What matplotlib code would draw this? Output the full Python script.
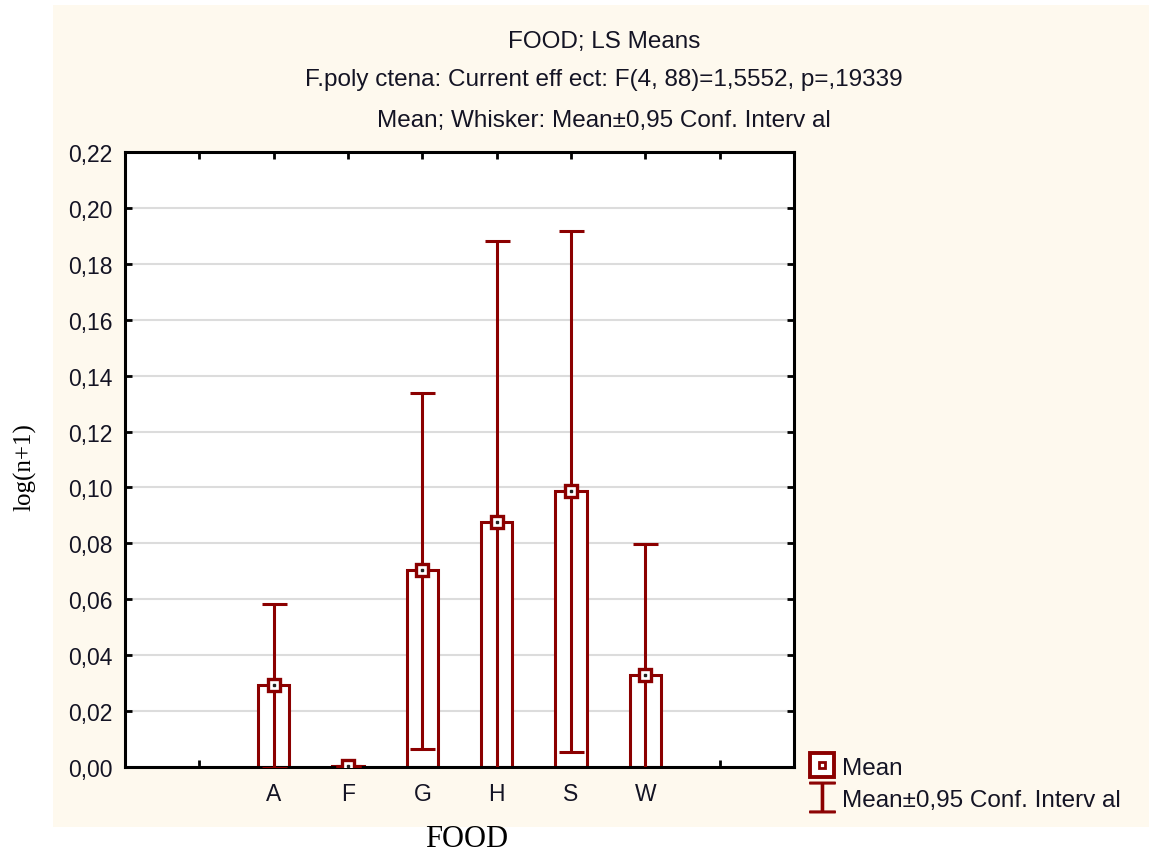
import numpy as np
from matplotlib import pyplot as plt
from matplotlib.patches import Rectangle
from matplotlib.lines import Line2D
from matplotlib.ticker import FuncFormatter

# =============================================================================
# data
# =============================================================================
food = ['A', 'F', 'G', 'H', 'S', 'W']
mean = [0.0293, 0.0002, 0.0705, 0.0877, 0.0988, 0.0329]
ci_low = [-0.0004, 0.0002, 0.0065, -0.0128, 0.0055, -0.0140]
ci_high = [0.0583, 0.0002, 0.1338, 0.1882, 0.1918, 0.0798]

red = '#8b0000'
cream = '#fef9ee'
ink = '#141424'
sans = 'Liberation Sans'

fig = plt.figure(figsize=(11.49, 8.54), dpi=100)
fig.patches.append(Rectangle((53/1149, 1-828/854), 1-53/1149, (828-6)/854,
                             transform=fig.transFigure, facecolor=cream,
                             edgecolor='none', zorder=-10))

ax = fig.add_axes([125/1149, 1-768/854, (794-125)/1149, (768-153)/854])
ax.set_facecolor('white')

pos = np.arange(2, 2+len(food))
ax.bar(pos, mean, width=0.42, facecolor='white', edgecolor=red,
       linewidth=2.2, zorder=2)
m = np.array(mean)
err = [m - np.array(ci_low), np.array(ci_high) - m]
ax.errorbar(pos, mean, yerr=err, fmt='none', ecolor=red, elinewidth=2.2,
            capsize=9, capthick=2.2, zorder=3)
ax.plot(pos, mean, ls='none', marker='s', ms=8, mfc='white', mec=red,
        mew=2.4, zorder=4)
ax.plot(pos, mean, ls='none', marker='s', ms=2, mfc='#222222', mec='#222222',
        zorder=5)

ax.set_xlim(0, 9)
ax.set_ylim(0, 0.22)
ax.set_xticks(range(1, 9))
ax.set_xticklabels([''] + food + [''])
ax.set_yticks(np.arange(0, 0.2201, 0.02))
ax.yaxis.set_major_formatter(FuncFormatter(lambda v, p: ('%.2f' % v).replace('.', ',')))
ax.grid(axis='y', color='#dcdcdc', linewidth=1.5, zorder=0)
ax.set_axisbelow(True)
ax.tick_params(direction='in', length=5, width=2, top=True, right=True,
               labelsize=16.5, colors='black')
ax.tick_params(axis='x', pad=11)
ax.tick_params(axis='y', pad=9)
for lab in ax.get_xticklabels() + ax.get_yticklabels():
    lab.set_fontfamily(sans)
    lab.set_color(ink)
for sp in ax.spines.values():
    sp.set_linewidth(2.2)

ax.set_ylabel('log(n+1)', family='Liberation Serif', fontsize=18)
ax.yaxis.set_label_coords((36-125)/669, 0.49)
ax.set_xlabel('FOOD', family='Liberation Serif', fontsize=22)
ax.xaxis.set_label_coords((467-125)/669, -(825-768)/615)

# titles
title_x = 604/1149
fig.text(title_x, 1-42/854, 'FOOD; LS Means', ha='center', va='center',
         family=sans, fontsize=17.5, color=ink)
fig.text(title_x, 1-80/854,
         'F.poly ctena: Current eff ect: F(4, 88)=1,5552, p=,19339',
         ha='center', va='center', family=sans, fontsize=17.5, color=ink)
fig.text(title_x, 1-121/854,
         'Mean; Whisker: Mean\u00b10,95 Conf. Interv al',
         ha='center', va='center', family=sans, fontsize=17.5, color=ink)

# legend
h_box = Line2D([], [], ls='none', marker='s', ms=17, mfc='white', mec=red, mew=2.8)
h_dot = Line2D([], [], ls='none', marker='s', ms=5, mfc='white', mec=red, mew=2)
h_ci = Line2D([], [], ls='none', marker='$\u2336$', ms=22, color=red)
leg = fig.legend([(h_box, h_dot), h_ci], ['Mean', 'Mean\u00b10,95 Conf. Interv al'],
                 loc='upper left', bbox_to_anchor=(789/1149, 1-736/854),
                 frameon=False, handlelength=0.9, handletextpad=0.4,
                 labelspacing=0.4, prop={'family': sans, 'size': 17.5})
for t in leg.get_texts():
    t.set_color(ink)

fig.savefig('out.png', dpi=100)
